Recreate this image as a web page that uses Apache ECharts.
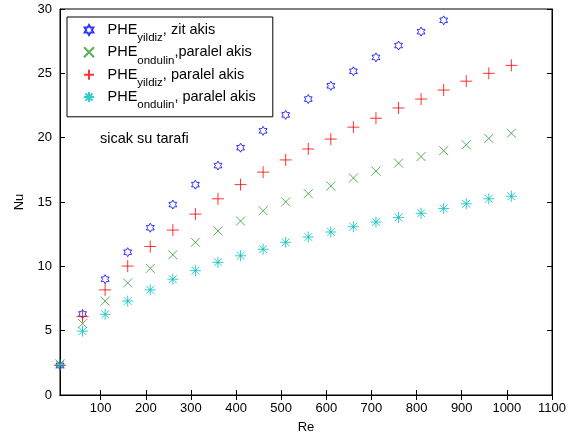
<!DOCTYPE html>
<html>
<head>
<meta charset="utf-8">
<script src="https://cdn.jsdelivr.net/npm/echarts@6/dist/echarts.min.js"></script>
<style>
html,body{margin:0;padding:0;background:#fff;}
#chart{width:575px;height:439px;}
</style>
</head>
<body>
<div id="chart"></div>
<script>
// ---- data ----
const re = [10,60,110,160,210,260,310,360,410,460,510,560,610,660,710,760,810,860,910,960,1010];
const yildizZit = [2.3,6.3,9.0,11.1,13.0,14.8,16.35,17.83,19.22,20.53,21.77,23.0,24.03,25.16,26.24,27.16,28.24,29.12];
const ondulinParalel1 = [2.42,5.55,7.3,8.71,9.84,10.9,11.87,12.75,13.52,14.32,15.01,15.65,16.24,16.86,17.4,18.02,18.53,18.99,19.45,19.94,20.35];
const yildizParalel = [2.3,6.09,8.17,10.02,11.54,12.82,14.06,15.25,16.35,17.32,18.27,19.12,19.89,20.82,21.51,22.31,23.0,23.7,24.39,25.0,25.62];
const ondulinParalel2 = [2.34,4.96,6.27,7.3,8.17,9.0,9.66,10.31,10.82,11.33,11.87,12.28,12.67,13.08,13.44,13.8,14.13,14.5,14.86,15.25,15.45];
const xTicks = [100,200,300,400,500,600,700,800,900,1000,1100];
const seriesNames = ['s1','s2','s3','s4'];
const legendLabels = {
  s1: '{m|PHE}{s|yildiz}{m|, zit akis}',
  s2: '{m|PHE}{s|ondulin}{m|,paralel akis}',
  s3: '{m|PHE}{s|yildiz}{m|, paralel akis}',
  s4: '{m|PHE}{s|ondulin}{m|, paralel akis}'
};
const annotationText = 'sicak su tarafi';

const FONT = 'Liberation Sans, Arial, Helvetica, sans-serif';
const hexagram = 'path://M0,-10 L2.887,-5 L8.66,-5 L5.774,0 L8.66,5 L2.887,5 L0,10 L-2.887,5 L-8.66,5 L-5.774,0 L-8.66,-5 L-2.887,-5 Z';
const cross = 'path://M-1,-1 L1,1 M-1,1 L1,-1';
const plus = 'path://M0,-1 L0,1 M-1,0 L1,0';
const aster = 'path://M0,-1 L0,1 M-1,0 L1,0 M-0.707,-0.707 L0.707,0.707 M-0.707,0.707 L0.707,-0.707';

function pairs(ys){ return ys.map((y,i)=>[re[i], y]); }

function mk(name, data, symbol, size, color){
  return {
    name, type:'scatter', data: pairs(data), symbol, symbolSize: size,
    symbolKeepAspect: true, clip:false,
    itemStyle:{color:'rgba(0,0,0,0)', borderColor:color, borderWidth:1},
    emphasis:{disabled:true}, silent:true
  };
}

const axisLineStyle = {color:'#000', width:1};
const chart = echarts.init(document.getElementById('chart'), null, {renderer:'canvas'});
chart.setOption({
  animation:false,
  backgroundColor:'#fff',
  textStyle:{fontFamily:FONT},
  grid:{left:60, right:23, top:9, bottom:41, show:true, borderColor:'#000', borderWidth:1, backgroundColor:'#fff'},
  xAxis:[{
    type:'value', min:10, max:1100, position:'bottom',
    name:'Re', nameLocation:'middle', nameGap:26,
    nameTextStyle:{color:'#000', fontSize:13, fontFamily:FONT},
    axisLine:{show:true, lineStyle:axisLineStyle},
    axisTick:{show:true, inside:true, length:5, customValues:xTicks, lineStyle:axisLineStyle},
    axisLabel:{customValues:xTicks, formatter: v => String(v), color:'#000', fontSize:13, fontFamily:FONT, margin:7},
    splitLine:{show:false}
  },{
    type:'value', min:10, max:1100, position:'top',
    axisLine:{show:true, lineStyle:axisLineStyle},
    axisTick:{show:true, inside:true, length:5, customValues:xTicks, lineStyle:axisLineStyle},
    axisLabel:{show:false},
    splitLine:{show:false}
  }],
  yAxis:[{
    type:'value', min:0, max:30, interval:5, position:'left',
    name:'Nu', nameLocation:'middle', nameGap:34,
    nameTextStyle:{color:'#000', fontSize:13, fontFamily:FONT},
    axisLine:{show:true, lineStyle:axisLineStyle},
    axisTick:{show:true, inside:true, length:5, lineStyle:axisLineStyle},
    axisLabel:{color:'#000', fontSize:13, fontFamily:FONT, margin:8},
    splitLine:{show:false}
  },{
    type:'value', min:0, max:30, interval:5, position:'right',
    axisLine:{show:true, lineStyle:axisLineStyle},
    axisTick:{show:true, inside:true, length:5, lineStyle:axisLineStyle},
    axisLabel:{show:false},
    splitLine:{show:false}
  }],
  legend:{
    orient:'vertical', left:67, top:17,
    data: seriesNames,
    padding:[2.4,17,5.6,16], itemGap:-2.2, itemWidth:27, itemHeight:10,
    borderColor:'#000', borderWidth:1, backgroundColor:'#fff',
    selectedMode:false,
    formatter: n => legendLabels[n],
    textStyle:{color:'#000', fontFamily:FONT, fontSize:14.5,
      rich:{
        m:{fontSize:14.5, fontFamily:FONT, color:'#000', lineHeight:21},
        s:{fontSize:11.5, fontFamily:FONT, color:'#000', lineHeight:4, verticalAlign:'top', padding:[12.6,0,0,0]}
      }
    }
  },
  graphic:[{
    type:'text', left:100, top:131,
    style:{text:annotationText, fill:'#000', font:'14.5px ' + FONT}
  }],
  series:[
    mk('s1', yildizZit, hexagram, 9, '#0000ff'),
    mk('s2', ondulinParalel1, cross, 9, '#2f9a2f'),
    mk('s3', yildizParalel, plus, 12, '#ff0000'),
    mk('s4', ondulinParalel2, aster, 11, '#00bfbf')
  ]
});
</script>
</body>
</html>
